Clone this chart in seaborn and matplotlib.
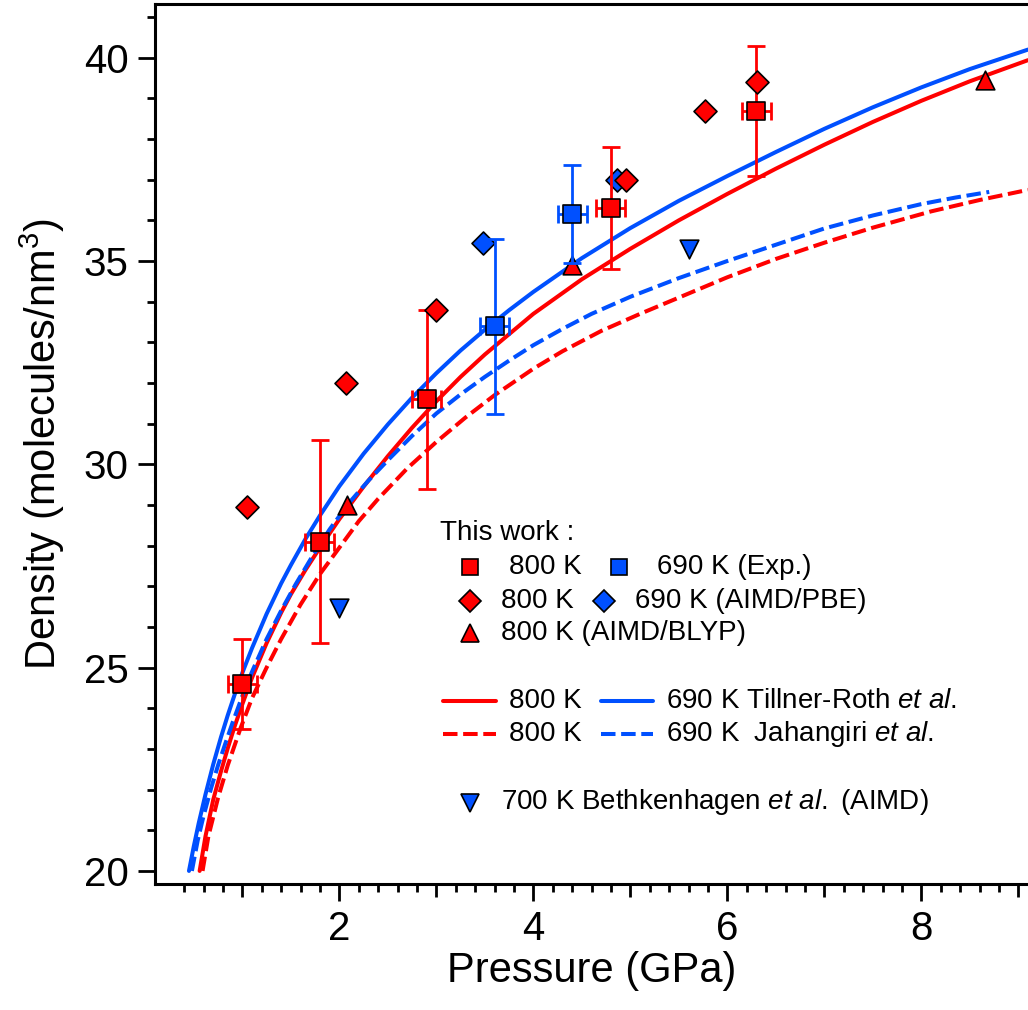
import numpy as np
import pandas as pd
import seaborn as sns
import matplotlib.pyplot as plt
from matplotlib.lines import Line2D
from matplotlib.ticker import FixedLocator, MultipleLocator, FuncFormatter

# ---- data ----
# This work, 800 K experiment (red squares)
exp800_p = [1.0, 1.8, 2.9, 4.8, 6.3]
exp800_d = [24.6, 28.1, 31.6, 36.3, 38.7]
exp800_derr = [1.1, 2.5, 2.2, 1.5, 1.6]
exp800_perr = [0.15, 0.15, 0.15, 0.15, 0.15]

# This work, 690 K experiment (blue squares)
exp690_p = [3.6, 4.4]
exp690_d = [33.4, 36.15]
exp690_derr = [2.15, 1.2]
exp690_perr = [0.15, 0.15]

# AIMD/PBE diamonds
pbe800_p = [1.05, 2.07, 3.0, 4.96, 5.77, 6.31]
pbe800_d = [28.95, 32.0, 33.8, 37.0, 38.7, 39.4]
pbe690_p = [3.48, 4.86]
pbe690_d = [35.45, 37.0]

# AIMD/BLYP 800 K triangles
blyp800_p = [2.08, 4.4, 8.66]
blyp800_d = [29.0, 34.9, 39.45]

# Bethkenhagen et al. 700 K
beth700_p = [2.0, 5.61]
beth700_d = [26.47, 35.3]

# Tillner-Roth et al. EOS (solid)
tr690_p = [0.45, 0.5, 0.55, 0.62, 0.7, 0.78, 0.85, 0.92, 1.0, 1.1, 1.25, 1.4, 1.5, 1.65, 1.8, 2.0,
           2.25, 2.5, 2.75, 3.0, 3.25, 3.5, 3.75, 4.0, 4.5, 5.0, 5.5, 6.0, 6.5, 7.0, 7.5, 8.0, 8.5, 9.1]
tr690_d = [20.0, 20.61, 21.17, 21.88, 22.62, 23.29, 23.83, 24.33, 24.87, 25.48, 26.32, 27.07, 27.52, 28.16, 28.74, 29.46,
           30.26, 30.98, 31.64, 32.24, 32.8, 33.31, 33.79, 34.24, 35.07, 35.81, 36.48, 37.09, 37.68, 38.25, 38.78, 39.27, 39.72, 40.2]
tr800_p = [0.56, 0.62, 0.70, 0.78, 0.85, 0.92, 1.0, 1.1, 1.25, 1.4, 1.5, 1.65, 1.8, 2.0, 2.25, 2.5,
           2.75, 3.0, 3.25, 3.5, 3.75, 4.0, 4.5, 5.0, 5.5, 6.0, 6.5, 7.0, 7.5, 8.0, 8.5, 9.1]
tr800_d = [20.0, 20.85, 21.75, 22.45, 23.02, 23.55, 24.1, 24.75, 25.6, 26.35, 26.8, 27.4, 27.95, 28.65, 29.45, 30.2,
           30.9, 31.55, 32.15, 32.7, 33.2, 33.7, 34.55, 35.3, 36.0, 36.65, 37.27, 37.86, 38.42, 38.94, 39.42, 39.94]

# Jahangiri et al. EOS (dashed)
ja690_p = [0.48, 0.54, 0.6, 0.68, 0.75, 0.82, 0.9, 1.0, 1.1, 1.25, 1.4, 1.55, 1.7, 1.9, 2.1, 2.3, 2.5,
           2.75, 3.0, 3.25, 3.5, 3.75, 4.0, 4.3, 4.6, 5.0, 5.5, 6.0, 6.5, 7.0, 7.5, 8.0, 8.35, 8.7]
ja690_d = [20.0, 20.75, 21.35, 22.05, 22.6, 23.1, 23.65, 24.3, 24.9, 25.7, 26.4, 27.05, 27.65, 28.4, 29.05, 29.6, 30.1,
           30.7, 31.25, 31.72, 32.15, 32.55, 32.93, 33.33, 33.7, 34.12, 34.58, 35.0, 35.4, 35.8, 36.12, 36.4, 36.56, 36.7]
ja800_p = [0.59, 0.65, 0.75, 0.85, 0.98, 1.1, 1.25, 1.4, 1.6, 1.8, 2.0, 2.2, 2.4, 2.7, 3.0, 3.3, 3.6,
           4.0, 4.3, 4.7, 5.1, 5.5, 6.0, 6.5, 7.0, 7.5, 8.1, 8.6, 9.1]
ja800_d = [20.0, 20.85, 21.8, 22.6, 23.5, 24.25, 25.0, 25.7, 26.55, 27.3, 27.95, 28.6, 29.15, 29.9, 30.55, 31.15, 31.7,
           32.35, 32.78, 33.28, 33.7, 34.1, 34.6, 35.05, 35.45, 35.82, 36.22, 36.5, 36.75]

RED = '#ff0000'
BLUE = '#0050ff'
LW = 2.9
DASH = (3.6, 1.4)

sns.set_theme(style='ticks')
plt.rcParams['font.family'] = ['Liberation Sans', 'DejaVu Sans']
plt.rcParams['mathtext.fontset'] = 'custom'
plt.rcParams['mathtext.rm'] = 'Liberation Sans'
plt.rcParams['mathtext.it'] = 'Liberation Sans:italic'
for key in ['text.color', 'axes.labelcolor', 'xtick.color', 'ytick.color', 'axes.edgecolor']:
    plt.rcParams[key] = 'black'

fig = plt.figure(figsize=(10.28, 10.10), dpi=100)
ax = fig.add_axes([0.1508, 0.1252, 0.8492, 0.8708])

# curves
sns.lineplot(x=tr690_p, y=tr690_d, color=BLUE, lw=LW, sort=False, estimator=None, ax=ax, zorder=2)
sns.lineplot(x=tr800_p, y=tr800_d, color=RED, lw=LW, sort=False, estimator=None, ax=ax, zorder=2)
sns.lineplot(x=ja690_p, y=ja690_d, color=BLUE, lw=LW, sort=False, estimator=None, ax=ax, zorder=2,
             dashes=False, linestyle=(0, DASH))
sns.lineplot(x=ja800_p, y=ja800_d, color=RED, lw=LW, sort=False, estimator=None, ax=ax, zorder=2,
             dashes=False, linestyle=(0, DASH))

# background markers
mk = dict(edgecolor='black', linewidth=1.2, ax=ax, legend=False)
sns.scatterplot(x=pbe690_p, y=pbe690_d, marker='D', s=137, color=BLUE, zorder=3, **mk)
sns.scatterplot(x=blyp800_p, y=blyp800_d, marker='^', s=180, color=RED, zorder=3, **mk)
sns.scatterplot(x=beth700_p, y=beth700_d, marker='v', s=180, color=BLUE, zorder=3, **mk)

# error bars
eb = dict(fmt='none', elinewidth=2, capsize=6.5, capthick=2, zorder=4)
ax.errorbar(exp800_p, exp800_d, yerr=exp800_derr, xerr=exp800_perr, ecolor=RED, **eb)
ax.errorbar(exp690_p, exp690_d, yerr=exp690_derr, xerr=exp690_perr, ecolor=BLUE, **eb)

# foreground markers
sns.scatterplot(x=exp800_p, y=exp800_d, marker='s', s=150, color=RED, zorder=5, **mk)
sns.scatterplot(x=exp690_p, y=exp690_d, marker='s', s=150, color=BLUE, zorder=5, **mk)
sns.scatterplot(x=pbe800_p, y=pbe800_d, marker='D', s=137, color=RED, zorder=5, **mk)

# axes
ax.set_xlim(0.1, 9.1)
ax.set_ylim(19.69, 41.32)
ax.spines['right'].set_visible(False)
for s in ['left', 'bottom', 'top']:
    ax.spines[s].set_linewidth(2.2)

ax.xaxis.set_major_locator(FixedLocator(list(range(1, 10))))
ax.xaxis.set_major_formatter(FuncFormatter(lambda v, pos: f'{int(round(v))}' if int(round(v)) % 2 == 0 else ''))
ax.xaxis.set_minor_locator(FixedLocator([v for v in np.arange(0.4, 9.05, 0.2) if abs(v - round(v)) > 1e-6]))
ax.yaxis.set_major_locator(FixedLocator([20, 25, 30, 35, 40]))
ax.yaxis.set_minor_locator(MultipleLocator(1))

ax.tick_params(which='major', direction='out', length=12, width=2, labelsize=29, pad=7, color='black')
ax.tick_params(which='minor', direction='out', length=6, width=2, color='black')
ax.tick_params(axis='x', top=False, which='both')

ax.set_xlabel('Pressure (GPa)', fontsize=30, labelpad=2)
ax.set_ylabel('Density (molecules/nm$^{3}$)', fontsize=30, labelpad=12)

for t, v in zip(ax.xaxis.get_major_ticks(), range(1, 10)):
    if v % 2:
        t.tick1line.set_markersize(9)


# ---- legend, laid out like the original ----
def fpos(x, y):
    return x / 1028, 1 - y / 1010


def key_marker(x, y, marker, color, ms):
    fig.add_artist(Line2D([fpos(x, y)[0]], [fpos(x, y)[1]], marker=marker, ms=ms, color=color,
                          mec='black', mew=1.2, ls='none', transform=fig.transFigure))


def key_line(x0, x1, y, color, ls):
    fig.add_artist(Line2D([fpos(x0, y)[0], fpos(x1, y)[0]], [fpos(x0, y)[1]] * 2, color=color,
                          lw=LW, ls=ls, transform=fig.transFigure))


def key_text(x, y, s):
    fig.text(*fpos(x, y), s, ha='left', va='center', fontsize=20)


key_text(440, 533, 'This work :')
key_marker(470, 567, 's', RED, 12.2)
key_text(509, 567, '800 K')
key_marker(619, 567, 's', BLUE, 12.2)
key_text(657, 567, '690 K (Exp.)')
key_marker(470, 601, 'D', RED, 11.7)
key_text(501, 601, '800 K')
key_marker(604, 601, 'D', BLUE, 11.7)
key_text(635, 601, '690 K (AIMD/PBE)')
key_marker(470, 633, '^', RED, 13.4)
key_text(501, 633, '800 K (AIMD/BLYP)')
key_line(443, 496, 701, RED, '-')
key_text(509, 701, '800 K')
key_line(601, 653, 701, BLUE, '-')
key_text(666, 701, r'690 K Tillner-Roth $\mathit{et\ al.}$')
key_line(443, 496, 734, RED, (0, DASH))
key_text(509, 734, '800 K')
key_line(601, 653, 734, BLUE, (0, DASH))
key_text(666, 734, r'690 K  Jahangiri $\mathit{et\ al.}$')
key_marker(470, 803, 'v', BLUE, 13.4)
key_text(501, 802, r'700 K Bethkenhagen $\mathit{et\ al.}$ (AIMD)')

fig.savefig('out.png', dpi=100)
